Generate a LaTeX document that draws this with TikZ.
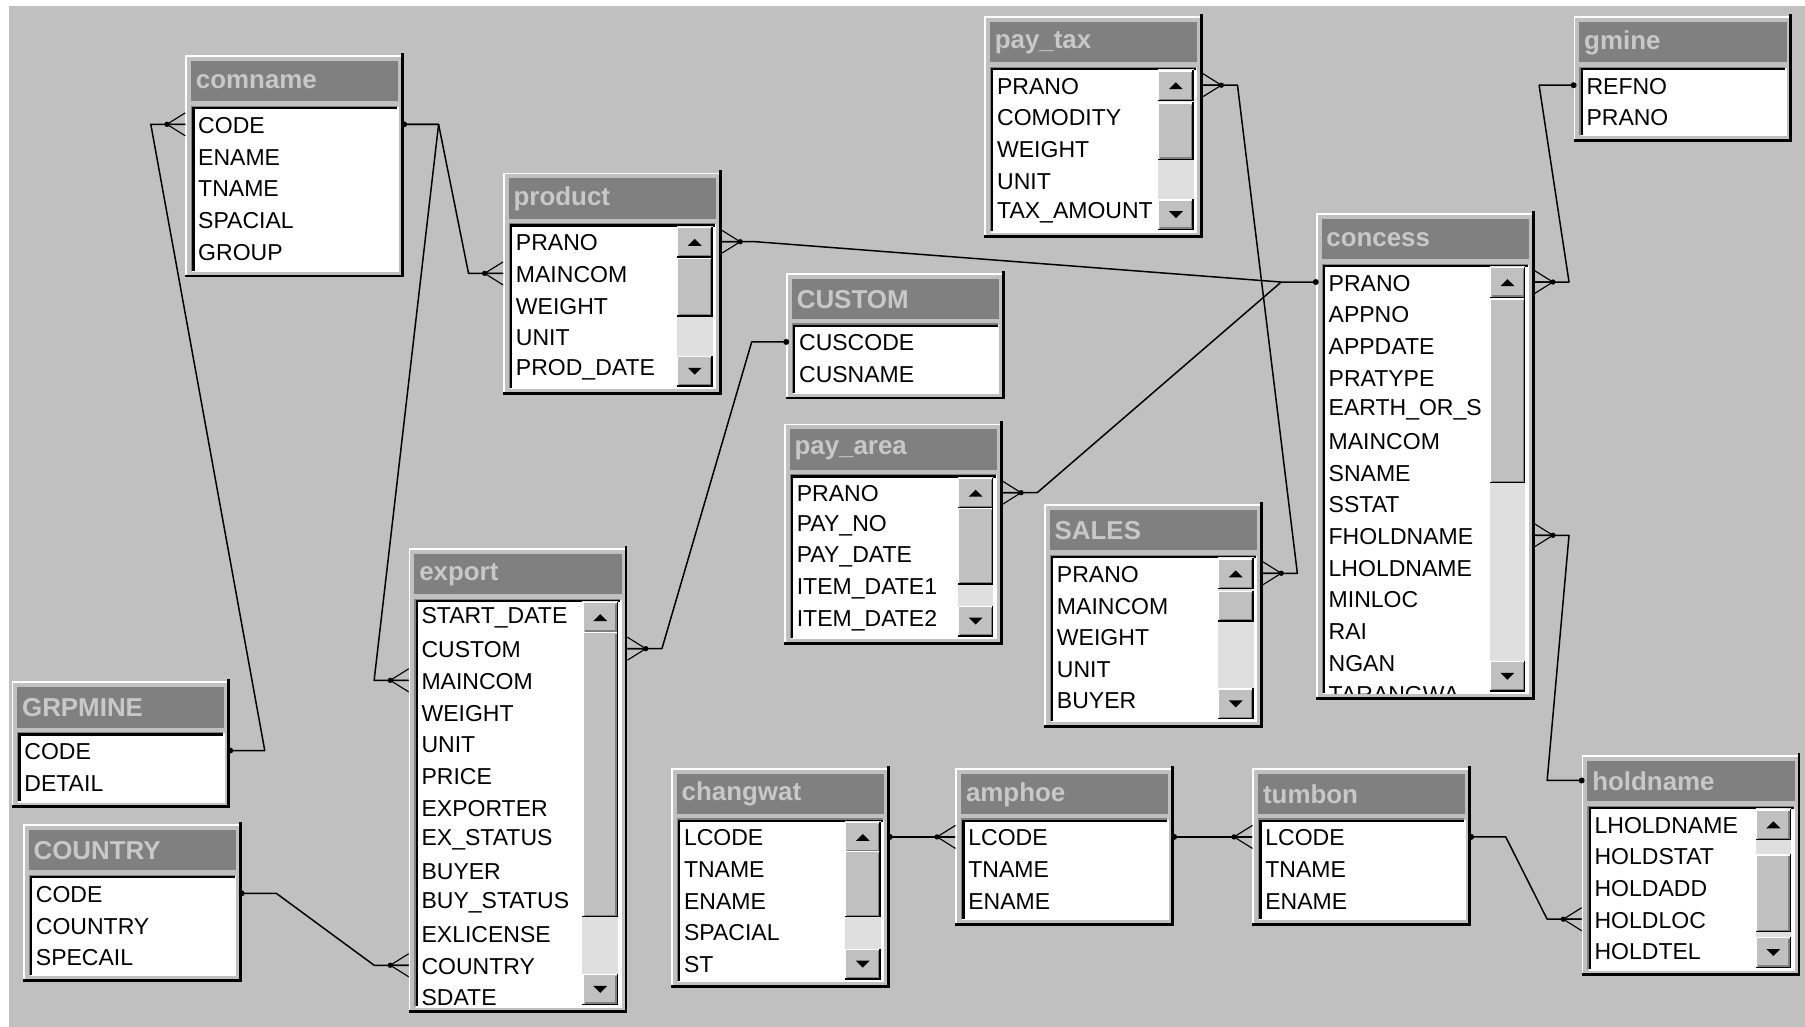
\documentclass[tikz,border=0pt]{standalone}
\usepackage{fontspec}
\setmainfont{Liberation Sans}
\usepackage{tikz}
\usetikzlibrary{calc}

\definecolor{winface}{HTML}{C0C0C0}
\definecolor{wintitle}{HTML}{808080}
\definecolor{titletext}{HTML}{C8C8C8}
\definecolor{dither}{HTML}{DFDFDF}
\definecolor{btnshadow}{HTML}{808080}

% raised 3D box (buttons, thumbs)
\newcommand{\raised}[4]{%
  \fill[winface] (#1,#2) rectangle (#3,#4);
  \draw[white,line width=1.2pt] (#1+0.6,#4) -- (#1+0.6,#2+0.6) -- (#3,#2+0.6);
  \draw[black,line width=1.2pt] (#1,#4-0.6) -- (#3-0.6,#4-0.6) -- (#3-0.6,#2);
  \draw[btnshadow,line width=1.2pt] (#1+1.8,#4-1.8) -- (#3-1.8,#4-1.8) -- (#3-1.8,#2+1.8);
}

% one table window: id, x, y, height, title, fields
\newcommand{\dbtable}[6]{%
  \fill[winface] (#2,#3) rectangle ++(190,#4);
  \draw[white,line width=1.5pt] (#2+0.75,#3+#4) -- (#2+0.75,#3+0.75) -- (#2+189,#3+0.75);
  \draw[black,line width=2.5pt] (#2,#3+#4-1.25) -- (#2+188.75,#3+#4-1.25) -- (#2+188.75,#3-2);
  \fill[wintitle] (#2+5,#3+5) rectangle (#2+185,#3+40);
  \node[tabtitle] (#1) at (#2+9,#3+23) {#5};
  \coordinate (#1-T-W) at (#2,#3+22);
  \fill[white] (#2+6,#3+45) rectangle (#2+184,#3+#4-6);
  \draw[white,line width=1.5pt] (#2+6,#3+#4-5.5) -- (#2+184.5,#3+#4-5.5) -- (#2+184.5,#3+45);
  \draw[btnshadow,line width=1pt] (#2+5.5,#3+#4-6) -- (#2+5.5,#3+44.5) -- (#2+184,#3+44.5);
  \draw[black,line width=2pt] (#2+7,#3+#4-6) -- (#2+7,#3+46) -- (#2+184,#3+46);
  \begin{scope}
    \clip (#2+8,#3+47) rectangle (#2+184,#3+#4-6);
    \foreach \f [count=\i] in {#6} {
      \node[field] (#1-\i) at (#2+11,#3+61+27.5*\i-27.5) {\f};
    }
  \end{scope}
  \foreach \f [count=\i] in {#6} {
    \coordinate (#1-\i-W) at (#2,#3+60+27.5*\i-27.5);
    \coordinate (#1-\i-E) at (#2+190,#3+60+27.5*\i-27.5);
  }
}

% scroll bar: x, y, height, thumb top, thumb bottom
\newcommand{\scrollbar}[5]{%
  \fill[dither] (#1+151,#2+46) rectangle (#1+182,#2+#3-7);
  \raised{#1+151}{#2+47}{#1+182}{#2+74}
  \fill (#1+160.5,#2+63.5) -- (#1+172.5,#2+63.5) -- (#1+166.5,#2+57.5) -- cycle;
  \raised{#1+151}{#2+#3-34}{#1+182}{#2+#3-7}
  \fill (#1+160.5,#2+#3-23.5) -- (#1+172.5,#2+#3-23.5) -- (#1+166.5,#2+#3-17.5) -- cycle;
  \raised{#1+151}{#4}{#1+182}{#5}
}

\begin{document}
\begin{tikzpicture}[
  x=1pt, y=-1pt,
  tabtitle/.style={anchor=west,inner sep=0pt,text=titletext,font=\bfseries\fontsize{22.5}{24}\selectfont},
  field/.style={anchor=west,inner sep=0pt,font=\fontsize{20}{22}\selectfont},
  rel/.style={line width=1.3pt,line join=round},
  prong/.style={line width=1pt},
  crowW/.pic={\draw[prong] (-16,0) -- (0,-10) (-16,0) -- (0,0) (-16,0) -- (0,10);
              \fill (-16,0) circle (2.3);},
  crowE/.pic={\draw[prong] (16,0) -- (0,-10) (16,0) -- (0,0) (16,0) -- (0,10);
              \fill (16,0) circle (2.3);},
  onedot/.pic={\fill (0,0) circle (2.6);}
]
\useasboundingbox (0,0) rectangle (1568,892);
\fill[white] (0,0) rectangle (1568,892);
\fill[winface] (8,5) rectangle (1568,892);

% --- tables
\dbtable{comname}{161}{48}{193}{comname}{CODE,ENAME,TNAME,SPACIAL,GROUP}
\dbtable{product}{437}{150}{193}{product}{PRANO,MAINCOM,WEIGHT,UNIT,PROD\_DATE}
\scrollbar{437}{150}{193}{224}{275}
\dbtable{paytax}{855}{14}{193}{pay\_tax}{PRANO,COMODITY,WEIGHT,UNIT,TAX\_AMOUNT}
\scrollbar{855}{14}{193}{89}{139}
\dbtable{gmine}{1367}{14}{109}{gmine}{REFNO,PRANO}
\dbtable{concess}{1143}{185}{423}{concess}{PRANO,APPNO,APPDATE,PRATYPE,EARTH\_OR\_S,MAINCOM,SNAME,SSTAT,FHOLDNAME,LHOLDNAME,MINLOC,RAI,NGAN,TARANGWA}
\scrollbar{1143}{185}{423}{259}{420}
\dbtable{custom}{683}{237}{110}{CUSTOM}{CUSCODE,CUSNAME}
\dbtable{payarea}{681}{368}{192}{pay\_area}{PRANO,PAY\_NO,PAY\_DATE,ITEM\_DATE1,ITEM\_DATE2}
\scrollbar{681}{368}{192}{441}{508}
\dbtable{sales}{907}{438}{194}{SALES}{PRANO,MAINCOM,WEIGHT,UNIT,BUYER}
\scrollbar{907}{438}{194}{513}{540}
\dbtable{export}{355}{476}{404}{export}{START\_DATE,CUSTOM,MAINCOM,WEIGHT,UNIT,PRICE,EXPORTER,EX\_STATUS,BUYER,BUY\_STATUS,EXLICENSE,COUNTRY,SDATE}
\scrollbar{355}{476}{404}{549}{797}
\dbtable{grpmine}{10}{592}{110}{GRPMINE}{CODE,DETAIL}
\dbtable{country}{20}{716}{137}{COUNTRY}{CODE,COUNTRY,SPECAIL}
\dbtable{changwat}{583}{667}{191}{changwat}{LCODE,TNAME,ENAME,SPACIAL,ST}
\scrollbar{583}{667}{191}{739}{797}
\dbtable{amphoe}{830}{667}{137}{amphoe}{LCODE,TNAME,ENAME}
\dbtable{tumbon}{1088}{667}{137}{tumbon}{LCODE,TNAME,ENAME}
\dbtable{holdname}{1374}{656}{192}{holdname}{LHOLDNAME,HOLDSTAT,HOLDADD,HOLDLOC,HOLDTEL}
\scrollbar{1374}{656}{192}{742}{810}

% --- relationships
\draw[rel] (grpmine-1-E) -- ++(30,0) -- ($(comname-1-W)+(-30,0)$) -- (comname-1-W);
\pic at (grpmine-1-E) {onedot};
\pic at (comname-1-W) {crowW};

\draw[rel] (comname-1-E) -- ++(30,0) -- ($(product-2-W)+(-30,0)$) -- (product-2-W);
\draw[rel] (comname-1-E) -- ++(30,0) -- ($(export-3-W)+(-30,0)$) -- (export-3-W);
\pic at (comname-1-E) {onedot};
\pic at (product-2-W) {crowW};
\pic at (export-3-W) {crowW};

\draw[rel] (product-1-E) -- ++(30,0) -- ($(concess-1-W)+(-30,0)$) -- (concess-1-W);
\draw[rel] (payarea-1-E) -- ++(30,0) -- ($(concess-1-W)+(-30,0)$);
\pic at (product-1-E) {crowE};
\pic at (payarea-1-E) {crowE};
\pic at (concess-1-W) {onedot};

\draw[rel] (paytax-1-E) -- ++(30,0) -- ($(sales-1-E)+(30,0)$) -- (sales-1-E);
\pic at (paytax-1-E) {crowE};
\pic at (sales-1-E) {crowE};

\draw[rel] (custom-1-W) -- ++(-30,0) -- ($(export-2-E)+(30,0)$) -- (export-2-E);
\pic at (custom-1-W) {onedot};
\pic at (export-2-E) {crowE};

\draw[rel] (country-1-E) -- ++(30,0) -- ($(export-12-W)+(-30,0)$) -- (export-12-W);
\pic at (country-1-E) {onedot};
\pic at (export-12-W) {crowW};

\draw[rel] (gmine-1-W) -- ++(-30,0) -- ($(concess-1-E)+(30,0)$) -- (concess-1-E);
\pic at (gmine-1-W) {onedot};
\pic at (concess-1-E) {crowE};

\draw[rel] (concess-9-E) -- ++(30,0) -- ($(holdname-T-W)+(-30,0)$) -- (holdname-T-W);
\pic at (concess-9-E) {crowE};
\pic at (holdname-T-W) {onedot};

\draw[rel] (changwat-1-E) -- (amphoe-1-W);
\pic at (changwat-1-E) {onedot};
\pic at (amphoe-1-W) {crowW};

\draw[rel] (amphoe-1-E) -- (tumbon-1-W);
\pic at (amphoe-1-E) {onedot};
\pic at (tumbon-1-W) {crowW};

\draw[rel] (tumbon-1-E) -- ++(30,0) -- ($(holdname-4-W)+(-30,0)$) -- (holdname-4-W);
\pic at (tumbon-1-E) {onedot};
\pic at (holdname-4-W) {crowW};

\end{tikzpicture}
\end{document}
